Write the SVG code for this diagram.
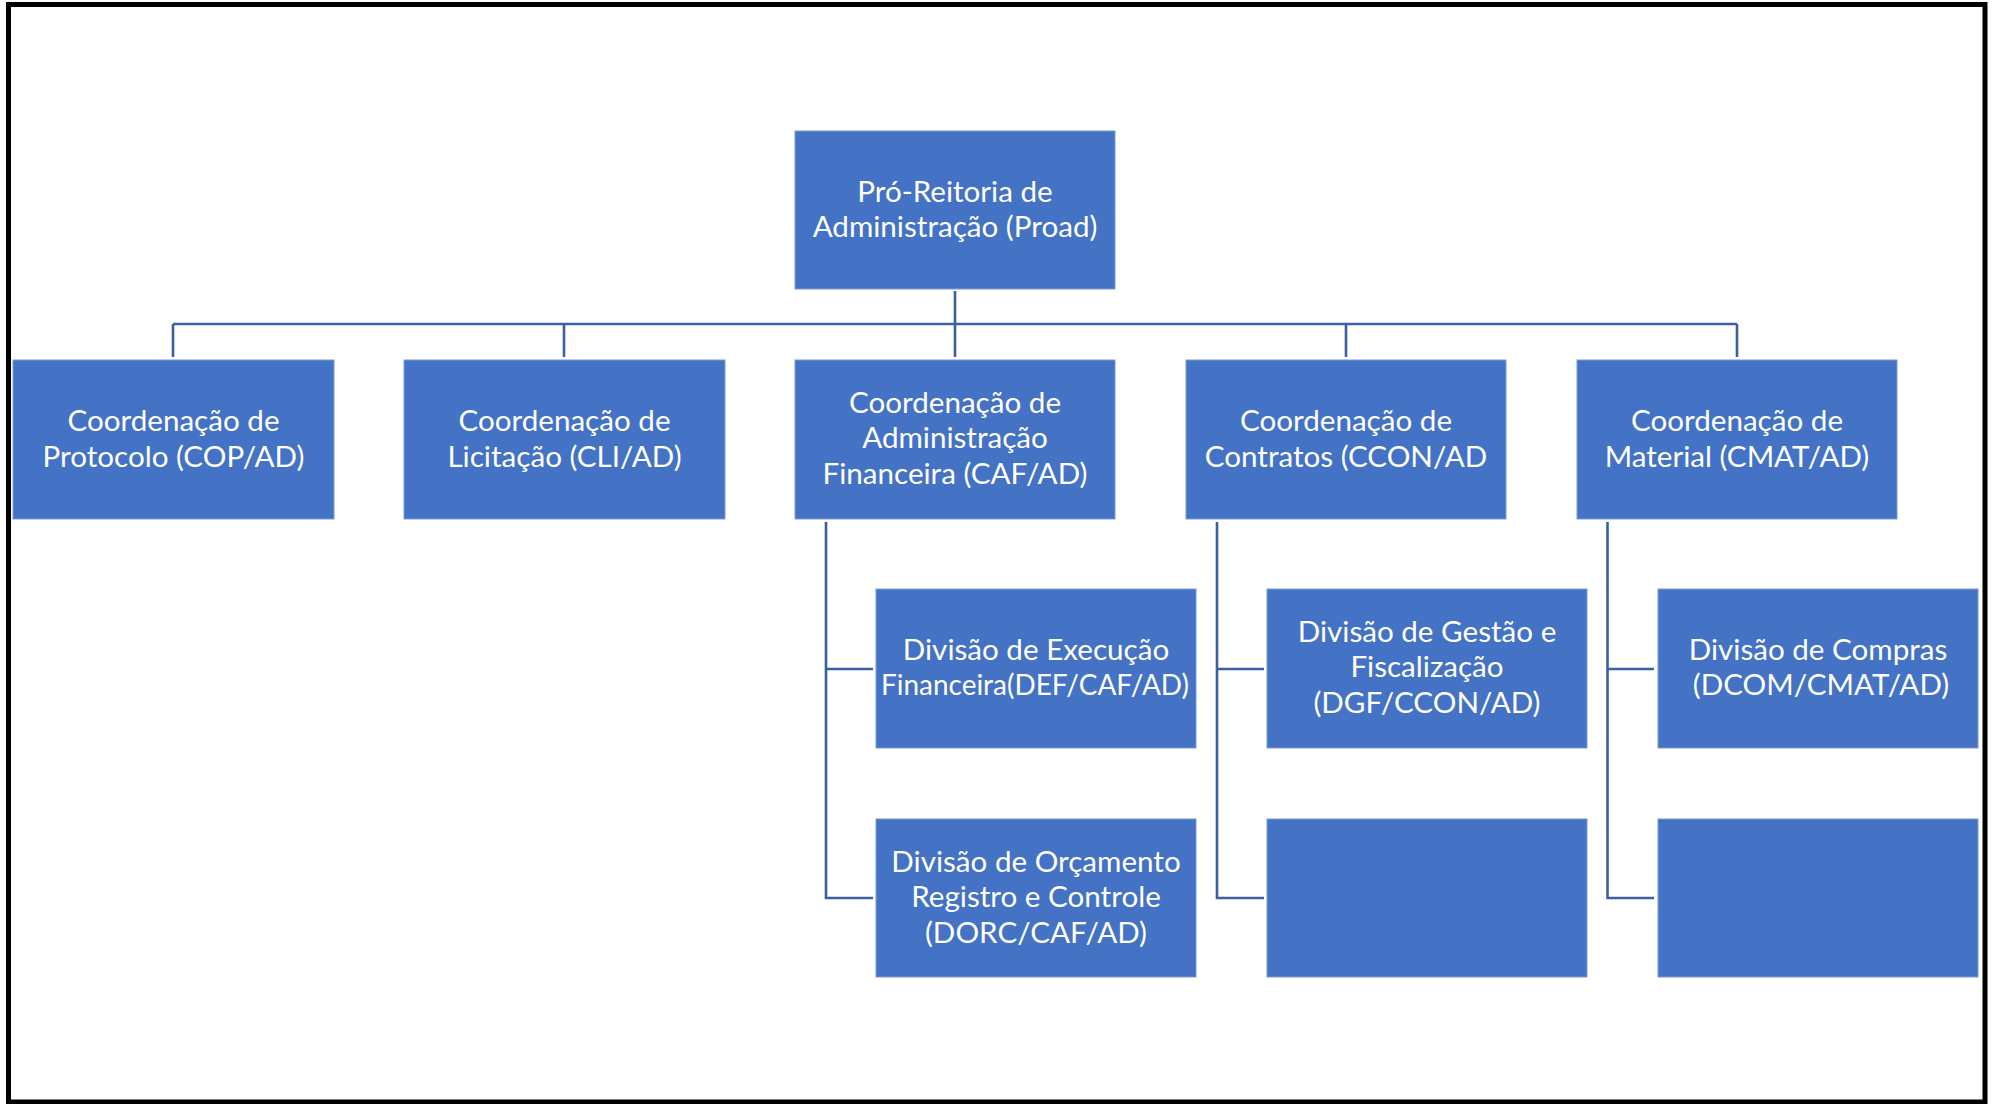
<svg xmlns="http://www.w3.org/2000/svg" width="1997" height="1104" viewBox="0 0 1997 1104">
<style>
.box{fill:#4472C4;stroke:#7A9BD6;stroke-width:1}
.t{font-family:Lato,"Open Sans","Liberation Sans",sans-serif;font-size:29.6px;fill:#FFFFFF;text-anchor:middle}
.c{fill:none;stroke:#3A5FA6;stroke-width:2.6}
</style>
<rect x="0" y="0" width="1997" height="1104" fill="#FFFFFF"/>
<rect x="8.5" y="4.5" width="1976.5" height="1097.5" fill="none" stroke="#000000" stroke-width="5"/>
<g id="connectors">
<path class="c" d="M955 291V357M173 324H1737M173 324V357M564 324V357M1346 324V357M1737 324V357"/>
<path class="c" d="M826 522V898H873M826 669H873"/>
<path class="c" d="M1217 522V898H1264M1217 669H1264"/>
<path class="c" d="M1607.5 522V898H1654M1607.5 669H1654"/>
</g>
<g id="proad">
<rect class="box" x="795" y="131" width="320" height="158"/>
<text class="t" x="955" y="202">Pró-Reitoria de</text>
<text class="t" x="955" y="237">Administração (Proad)</text>
</g>
<g id="cop">
<rect class="box" x="13" y="360" width="321" height="159"/>
<text class="t" x="173.5" y="431">Coordenação de</text>
<text class="t" x="173.5" y="467">Protocolo (COP/AD)</text>
</g>
<g id="cli">
<rect class="box" x="404" y="360" width="321" height="159"/>
<text class="t" x="564.5" y="431">Coordenação de</text>
<text class="t" x="564.5" y="467">Licitação (CLI/AD)</text>
</g>
<g id="caf">
<rect class="box" x="795" y="360" width="320" height="159"/>
<text class="t" x="955" y="413">Coordenação de</text>
<text class="t" x="955" y="448">Administração</text>
<text class="t" x="955" y="484">Financeira (CAF/AD)</text>
</g>
<g id="ccon">
<rect class="box" x="1186" y="360" width="320" height="159"/>
<text class="t" x="1346" y="431">Coordenação de</text>
<text class="t" x="1346" y="467">Contratos (CCON/AD</text>
</g>
<g id="cmat">
<rect class="box" x="1577" y="360" width="320" height="159"/>
<text class="t" x="1737" y="431">Coordenação de</text>
<text class="t" x="1737" y="467">Material (CMAT/AD)</text>
</g>
<g id="def">
<rect class="box" x="876" y="589" width="320" height="159"/>
<text class="t" x="1036" y="660">Divisão de Execução</text>
<text class="t" x="1035" y="695" textLength="308" lengthAdjust="spacingAndGlyphs">Financeira(DEF/CAF/AD)</text>
</g>
<g id="dorc">
<rect class="box" x="876" y="819" width="320" height="158"/>
<text class="t" x="1036" y="872">Divisão de Orçamento</text>
<text class="t" x="1036" y="907">Registro e Controle</text>
<text class="t" x="1036" y="943">(DORC/CAF/AD)</text>
</g>
<g id="dgf">
<rect class="box" x="1267" y="589" width="320" height="159"/>
<text class="t" x="1427" y="642">Divisão de Gestão e</text>
<text class="t" x="1427" y="677">Fiscalização</text>
<text class="t" x="1427" y="713">(DGF/CCON/AD)</text>
</g>
<g id="ccon-empty">
<rect class="box" x="1267" y="819" width="320" height="158"/>
</g>
<g id="dcom">
<rect class="box" x="1658" y="589" width="320" height="159"/>
<text class="t" x="1818" y="660">Divisão de Compras</text>
<text class="t" x="1821" y="695">(DCOM/CMAT/AD)</text>
</g>
<g id="cmat-empty">
<rect class="box" x="1658" y="819" width="320" height="158"/>
</g>
</svg>
